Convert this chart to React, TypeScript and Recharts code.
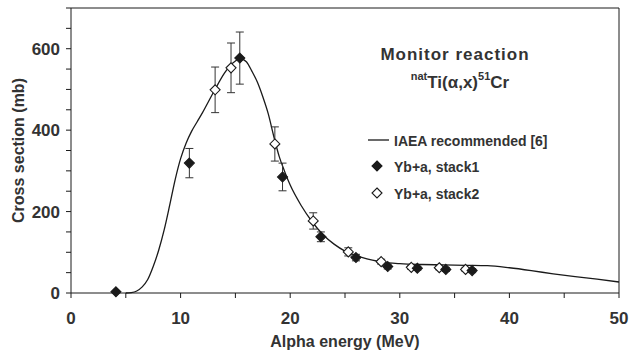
import { ComposedChart, Line, Scatter, ErrorBar, XAxis, YAxis, ReferenceLine } from 'recharts'

// IAEA recommended curve
const curveEnergy = [5, 5.5, 6, 6.5, 7, 7.5, 8, 8.5, 9, 9.5, 10, 10.5, 11, 11.5, 12, 13, 14, 14.5, 15, 15.4, 16, 16.5, 17, 17.5, 18, 18.5, 19, 19.5, 20, 21, 22, 23, 24, 25, 26, 27, 28, 29, 30, 32, 34, 36, 38, 40, 42, 44, 46, 48, 50]
const curveSigma = [0, 1, 5, 15, 33, 65, 105, 155, 215, 278, 330, 368, 397, 420, 443, 493, 540, 558, 570, 576, 568, 545, 518, 482, 440, 385, 335, 298, 265, 215, 175, 143, 120, 103, 92, 84, 78, 74, 72, 70, 69, 68, 67, 62, 55, 47, 40, 34, 27]

// Yb+a, stack1 (filled)
const stack1Energy = [4.1, 10.8, 15.4, 19.3, 22.8, 26.0, 28.9, 31.6, 34.2, 36.6]
const stack1Sigma = [3, 319, 577, 285, 138, 87, 65, 61, 58, 55]
const stack1Err = [0, 36, 64, 34, 12, 8, 6, 5, 5, 5]

// Yb+a, stack2 (open)
const stack2Energy = [13.15, 14.6, 18.6, 22.1, 25.3, 28.3, 31.05, 33.6, 36.0]
const stack2Sigma = [499, 553, 366, 177, 101, 77, 63, 62, 58]
const stack2Err = [56, 61, 42, 20, 10, 6, 5, 5, 5]

const xTicks = [0, 5, 10, 15, 20, 25, 30, 35, 40, 45, 50]
const yTicks = [0, 50, 100, 150, 200, 250, 300, 350, 400, 450, 500, 550, 600, 650, 700]

const curve = curveEnergy.map((x, i) => ({ x, y: curveSigma[i] }))
const stack1 = stack1Energy.map((x, i) => ({ x, y: stack1Sigma[i], err: stack1Err[i] }))
const stack2 = stack2Energy.map((x, i) => ({ x, y: stack2Sigma[i], err: stack2Err[i] }))

const FONT = '"Liberation Sans", Arial, sans-serif'
const INK = '#1a1a1a'
const TEXT = '#333'

function Diamond({ cx, cy, fill }: { cx?: number; cy?: number; fill: string }) {
  if (cx == null || cy == null) return null
  const r = 5
  return (
    <polygon
      points={`${cx},${cy - r} ${cx + r},${cy} ${cx},${cy + r} ${cx - r},${cy}`}
      fill={fill}
      stroke={INK}
      strokeWidth={1.1}
    />
  )
}

const tickStyle = { fontSize: 17, fontWeight: 'bold', fill: TEXT, fontFamily: FONT }

export default function App() {
  return (
    <div style={{ position: 'absolute', left: 0, top: 0, width: 629, height: 356, background: '#fff' }}>
      <ComposedChart width={629} height={356} margin={{ top: 8, right: 10, left: 11, bottom: 7 }}>
        <XAxis
          dataKey="x"
          type="number"
          domain={[0, 50]}
          ticks={xTicks}
          interval={0}
          tickFormatter={(v) => (v % 10 === 0 ? String(v) : '')}
          height={56}
          tickSize={5}
          tickMargin={14}
          axisLine={{ stroke: INK }}
          tickLine={{ stroke: INK }}
          tick={tickStyle}
          label={{
            value: 'Alpha energy (MeV)',
            position: 'insideBottom',
            offset: 2,
            style: { fontSize: 16, fontWeight: 'bold', fill: TEXT, fontFamily: FONT },
          }}
        />
        <YAxis
          type="number"
          domain={[0, 700]}
          ticks={yTicks}
          interval={0}
          tickFormatter={(v) => (v % 200 === 0 ? String(v) : '')}
          width={60}
          tickSize={5}
          tickMargin={6}
          axisLine={{ stroke: INK }}
          tickLine={{ stroke: INK }}
          tick={tickStyle}
          label={{
            value: 'Cross section (mb)',
            angle: -90,
            position: 'insideLeft',
            offset: 7,
            style: { fontSize: 16, fontWeight: 'bold', fill: TEXT, fontFamily: FONT, textAnchor: 'middle' },
          }}
        />
        <ReferenceLine y={700} stroke={INK} />
        <ReferenceLine x={50} stroke={INK} />
        <Line
          data={curve}
          dataKey="y"
          type="monotone"
          stroke={INK}
          strokeWidth={1.3}
          dot={false}
          activeDot={false}
          isAnimationActive={false}
        />
        <Scatter
          data={stack2}
          dataKey="y"
          isAnimationActive={false}
          shape={(p: any) => <Diamond cx={p.cx} cy={p.cy} fill="#fff" />}
        >
          <ErrorBar dataKey="err" direction="y" width={4} stroke="#333" strokeWidth={1} />
        </Scatter>
        <Scatter
          data={stack1}
          dataKey="y"
          isAnimationActive={false}
          shape={(p: any) => <Diamond cx={p.cx} cy={p.cy} fill={INK} />}
        >
          <ErrorBar dataKey="err" direction="y" width={4} stroke="#333" strokeWidth={1} />
        </Scatter>
      </ComposedChart>

      <svg
        width={629}
        height={356}
        style={{ position: 'absolute', left: 0, top: 0, pointerEvents: 'none' }}
        fontFamily={FONT}
        fontWeight="bold"
        fill={TEXT}
      >
        <text x={455} y={60} textAnchor="middle" fontSize={17} letterSpacing={1}>
          Monitor reaction
        </text>
        <text x={460} y={88} textAnchor="middle" fontSize={17}>
          <tspan fontSize={11} dy={-8}>nat</tspan>
          <tspan dy={8}>Ti(α,x)</tspan>
          <tspan fontSize={11} dy={-8}>51</tspan>
          <tspan dy={8}>Cr</tspan>
        </text>

        <line x1={368} x2={389} y1={140} y2={140} stroke={INK} strokeWidth={1.3} />
        <text x={394} y={146} fontSize={14}>IAEA recommended [6]</text>
        <Diamond cx={377} cy={166} fill={INK} />
        <text x={394} y={172} fontSize={14}>Yb+a, stack1</text>
        <Diamond cx={377} cy={193} fill="#fff" />
        <text x={394} y={199} fontSize={14}>Yb+a, stack2</text>
      </svg>
    </div>
  )
}
